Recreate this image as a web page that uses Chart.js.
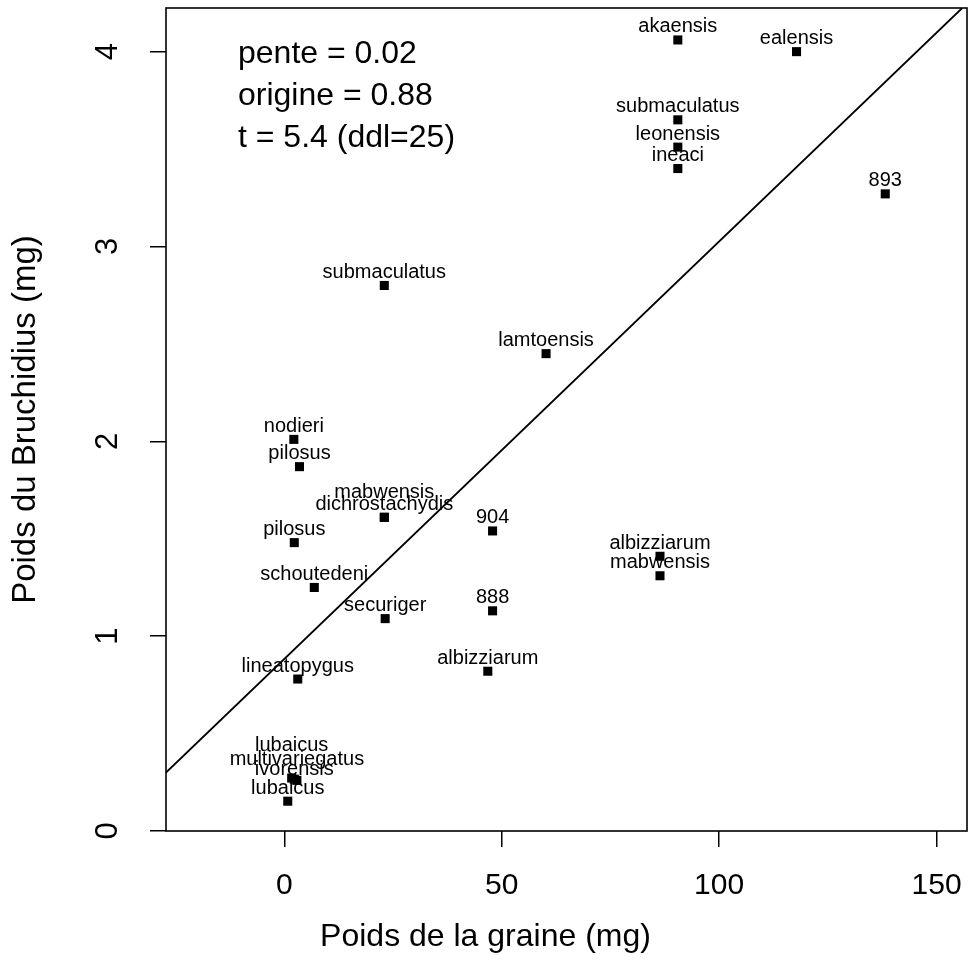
<!DOCTYPE html>
<html>
<head>
<meta charset="utf-8">
<script src="https://cdn.jsdelivr.net/npm/chart.js@4.4.1/dist/chart.umd.min.js"></script>
<style>
  html, body { margin: 0; padding: 0; background: #ffffff; }
  #wrap { width: 975px; height: 969px; }
</style>
</head>
<body>
<div id="wrap"><canvas id="c" width="975" height="969"></canvas></div>
<script>
// ---- data ----
const speciesNames = ['akaensis','ealensis','submaculatus','leonensis','ineaci','893','submaculatus','lamtoensis','nodieri','pilosus','mabwensis','dichrostachydis','904','pilosus','albizziarum','mabwensis','schoutedeni','888','securiger','albizziarum','lineatopygus','lubaicus','multivariegatus','ivorensis','lubaicus'];
const seedWeight   = [90.5,117.8,90.5,90.5,90.5,138.2,23.0,60.2,2.2,3.5,23.0,23.0,47.9,2.3,86.4,86.4,6.9,47.9,23.2,46.8,3.1,1.7,2.9,2.3,0.8];
const beetleWeight = [4.06,4.00,3.65,3.51,3.40,3.27,2.80,2.45,2.01,1.87,1.61,1.61,1.54,1.48,1.41,1.31,1.25,1.13,1.09,0.82,0.78,0.272,0.26,0.266,0.153];
const fitX = [-27.2, 155.9];
const fitY = [0.30, 4.224];
const xTicks = [0, 50, 100, 150];
const yTicks = [0, 1, 2, 3, 4];
const statLines = ['pente = 0.02', 'origine = 0.88', 't = 5.4 (ddl=25)'];
const xTitle = 'Poids de la graine (mg)';
const yTitle = 'Poids du Bruchidius (mg)';

// label nudges (px) for crowded labels, keyed by point index
const labelNudge = {10: -12, 21: -19.5, 22: -7.5, 23: 3.5};

const FONT = '"Liberation Sans", Arial, Helvetica, sans-serif';
Chart.defaults.font.family = FONT;
Chart.defaults.color = '#000';

const pts = seedWeight.map((x, i) => ({x: x, y: beetleWeight[i]}));
const linePts = fitX.map((x, i) => ({x: x, y: fitY[i]}));

const decorPlugin = {
  id: 'decor',
  afterDatasetsDraw(chart) {
    const ctx = chart.ctx;
    const ca = chart.chartArea;
    const xs = chart.scales.x, ys = chart.scales.y;
    ctx.save();
    // box
    ctx.strokeStyle = '#000';
    ctx.lineWidth = 1.6;
    ctx.strokeRect(ca.left, ca.top, ca.right - ca.left, ca.bottom - ca.top);
    // point labels
    const meta = chart.getDatasetMeta(0);
    ctx.fillStyle = '#000';
    ctx.font = '20px ' + FONT;
    ctx.textAlign = 'center';
    ctx.textBaseline = 'alphabetic';
    meta.data.forEach((el, i) => {
      const dy = labelNudge[i] || 0;
      ctx.fillText(speciesNames[i], el.x, el.y - 7.5 + dy);
    });
    // y tick labels (rotated, R style)
    ctx.font = '31px ' + FONT;
    yTicks.forEach(v => {
      const py = ys.getPixelForValue(v);
      ctx.save();
      ctx.translate(ca.left - 49, py);
      ctx.rotate(-Math.PI / 2);
      ctx.textAlign = 'center';
      ctx.textBaseline = 'alphabetic';
      ctx.fillText(String(v), 0, 0);
      ctx.restore();
    });
    // axis titles
    ctx.font = '32px ' + FONT;
    ctx.textAlign = 'center';
    ctx.fillText(xTitle, 485.5, 946);
    ctx.save();
    ctx.font = '33px ' + FONT;
    ctx.translate(35, (ca.top + ca.bottom) / 2);
    ctx.rotate(-Math.PI / 2);
    ctx.fillText(yTitle, 0, 0);
    ctx.restore();
    // stats text
    ctx.font = '32px ' + FONT;
    ctx.textAlign = 'left';
    statLines.forEach((t, i) => {
      ctx.fillText(t, ca.left + 72, ca.top + 55 + i * 42);
    });
    ctx.restore();
  }
};

new Chart(document.getElementById('c'), {
  type: 'scatter',
  data: {
    datasets: [
      {
        data: pts,
        pointStyle: 'rect',
        pointRadius: 6.4,
        pointHoverRadius: 6.4,
        pointBackgroundColor: '#000',
        pointBorderWidth: 0,
        borderWidth: 0,
        showLine: false
      },
      {
        type: 'line',
        data: linePts,
        borderColor: '#000',
        borderWidth: 1.8,
        pointRadius: 0,
        fill: false,
        tension: 0
      }
    ]
  },
  options: {
    responsive: false,
    animation: false,
    devicePixelRatio: 1,
    layout: { padding: { top: 8, right: 8, left: 0, bottom: 0 } },
    plugins: { legend: { display: false }, tooltip: { enabled: false } },
    scales: {
      x: {
        type: 'linear',
        min: -27.2,
        max: 157.0,
        afterBuildTicks: s => { s.ticks = xTicks.map(v => ({value: v})); },
        afterFit: s => { s.height = 138; s.paddingLeft = 0; s.paddingRight = 0; },
        border: { display: false },
        grid: { display: true, drawOnChartArea: false, drawTicks: true, tickLength: 16, color: '#000', lineWidth: 1.5 },
        ticks: { font: { size: 30 }, color: '#000', padding: 21, maxRotation: 0, minRotation: 0 }
      },
      y: {
        type: 'linear',
        min: 0,
        max: 4.224,
        afterBuildTicks: s => { s.ticks = yTicks.map(v => ({value: v})); },
        afterFit: s => { s.width = 166; s.paddingTop = 0; s.paddingBottom = 0; },
        border: { display: false },
        grid: { display: true, drawOnChartArea: false, drawTicks: true, tickLength: 16, color: '#000', lineWidth: 1.5 },
        ticks: { display: false }
      }
    }
  },
  plugins: [decorPlugin]
});
</script>
</body>
</html>
